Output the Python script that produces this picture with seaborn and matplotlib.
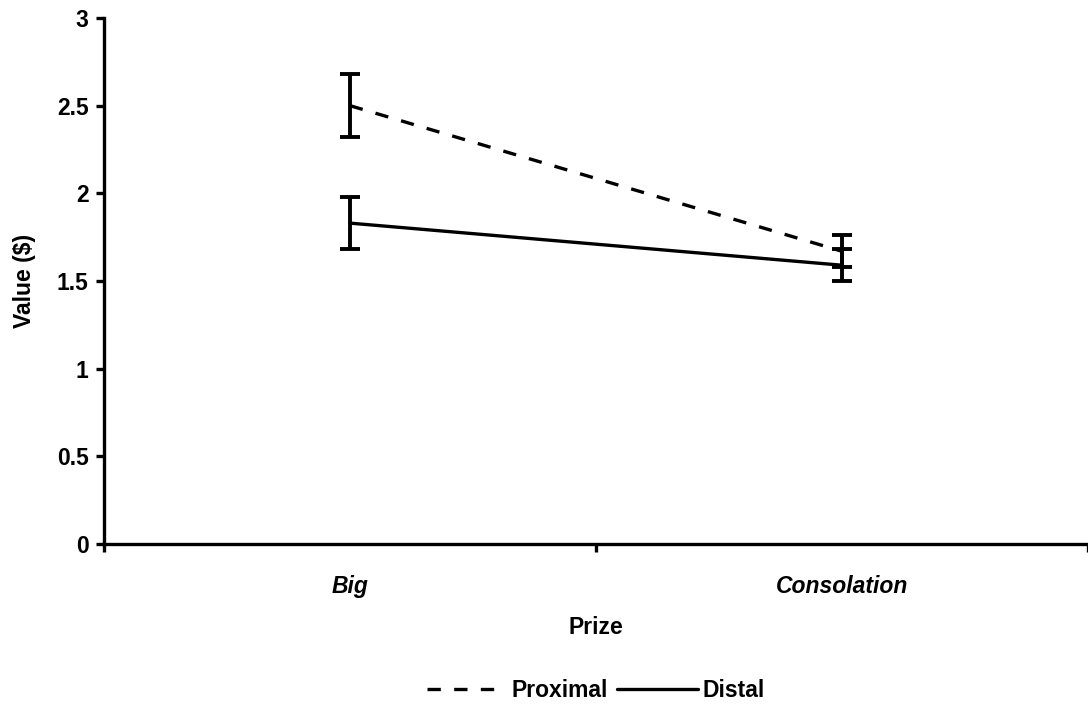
import matplotlib
matplotlib.use("Agg")
import matplotlib.pyplot as plt
import seaborn as sns
import pandas as pd

# values
prizes = ["Big", "Consolation"]
proximal_mean = [2.50, 1.67]
proximal_err = [0.18, 0.09]
distal_mean = [1.83, 1.59]
distal_err = [0.15, 0.09]

df = pd.DataFrame({
    "Prize": prizes * 2,
    "x": [0, 1, 0, 1],
    "Value": proximal_mean + distal_mean,
    "err": proximal_err + distal_err,
    "Condition": ["Proximal"] * 2 + ["Distal"] * 2,
})

sns.set_style("white")
plt.rcParams["font.family"] = ["Liberation Sans", "DejaVu Sans"]
plt.rcParams["font.weight"] = "bold"
plt.rcParams["text.color"] = "black"
plt.rcParams["axes.labelcolor"] = "black"
plt.rcParams["xtick.color"] = "black"
plt.rcParams["ytick.color"] = "black"

fs = 16.5
fig = plt.figure(figsize=(10.88, 7.05), dpi=100)
ax = fig.add_axes([0.0956, 0.2284, 0.904, 0.7461])

lw = 2.4
sns.lineplot(data=df, x="x", y="Value", style="Condition",
             style_order=["Proximal", "Distal"],
             dashes={"Proximal": (4, 4), "Distal": ""},
             color="black", linewidth=lw, ax=ax, legend=True)

ax.errorbar(df["x"], df["Value"], yerr=df["err"], fmt="none",
            ecolor="black", elinewidth=lw + 0.4, capsize=7, capthick=lw + 0.4)

ax.set_xlim(-0.5, 1.5)
ax.set_ylim(0, 3)
ax.set_yticks([0, 0.5, 1, 1.5, 2, 2.5, 3])
ax.set_yticklabels(["0", "0.5", "1", "1.5", "2", "2.5", "3"],
                   fontsize=fs, fontweight="bold")

# category labels between the boundary ticks
ax.set_xticks([-0.5, 0.5, 1.5])
ax.set_xticklabels([])
ax.set_xticks([0, 1], minor=True)
ax.set_xticklabels(prizes, minor=True, fontsize=fs, fontweight="bold",
                   fontstyle="italic")
ax.tick_params(axis="x", which="minor", bottom=True, length=0, pad=22)
ax.tick_params(axis="x", which="major", bottom=True, direction="out",
               length=6, width=2.4, color="black")
ax.tick_params(axis="y", left=True, direction="out", length=6, width=2.4,
               color="black", pad=5)

for side in ["top", "right"]:
    ax.spines[side].set_visible(False)
for side in ["left", "bottom"]:
    ax.spines[side].set_linewidth(2.4)
    ax.spines[side].set_color("black")

ax.set_xlabel("Prize", fontsize=fs, fontweight="bold", labelpad=13)
ax.set_ylabel("Value ($)", fontsize=fs, fontweight="bold", labelpad=15)

handles, labels = ax.get_legend_handles_labels()
ax.legend(handles, labels, loc="center", bbox_to_anchor=(0.5, -0.278),
          ncol=2, frameon=False, fontsize=fs, handlelength=3.5,
          columnspacing=0.4, handletextpad=0.2)

fig.savefig("out.png", dpi=100)
